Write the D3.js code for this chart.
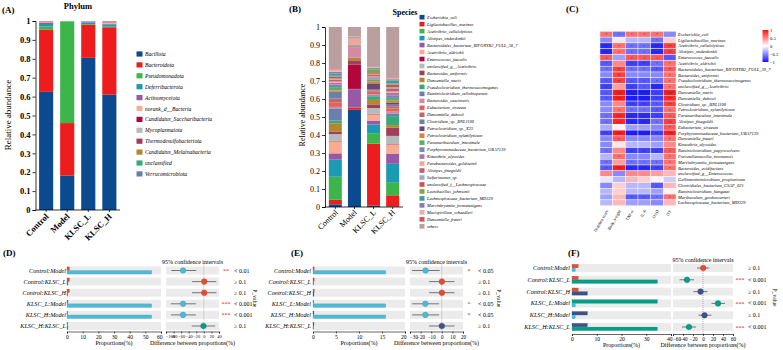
<!DOCTYPE html>
<html><head><meta charset="utf-8">
<script src="https://cdn.jsdelivr.net/npm/d3@7"></script>
<style>body{margin:0;background:#fff}svg{display:block}</style>
</head><body>
<script>
// ---------------- DATA ----------------
const groups = ["Control","Model","KLSC_L","KLSC_H"];
const yTicksStack = [0,0.1,0.2,0.3,0.4,0.5,0.6,0.7,0.8,0.9,1];

// Panel A - phylum
const phyla = ["Bacillota","Bacteroidota","Pseudomonadota","Deferribacterota","Actinomycetota","norank_d__Bacteria","Candidatus_Saccharibacteria","Mycoplasmatota","Thermodesulfobacteriota","Candidatus_Melainabacteria","unclassified","Verrucomicrobiota"];
const phylumColors = ["#0b4a8e","#ee1c1c","#3db54a","#1b9ab3","#9559a5","#f7ac92","#b3063c","#b3bcbb","#a03f5c","#b5862c","#38a97a","#6b7fae"];
// values per phylum: [Control, Model, KLSC_L, KLSC_H]
const phylumValues = [
  [0.625,0.183,0.805,0.610],
  [0.330,0.277,0.175,0.357],
  [0.016,0.538,0.004,0.003],
  [0.013,0.001,0.008,0.012],
  [0.007,0.000,0.003,0.004],
  [0.003,0.000,0.002,0.006],
  [0.002,0.000,0.001,0.002],
  [0.002,0.000,0.001,0.002],
  [0.001,0.000,0.001,0.002],
  [0.0005,0,0,0.001],
  [0.0005,0,0,0.0005],
  [0.0005,0,0,0.0005]
];

// Panel B - species
const species = ["Escherichia_coli","Ligilactobacillus_murinus","Acetivibrio_cellulolyticus","Alistipes_onderdonkii","Bacteroidales_bacterium_RIFOXYB2_FULL_38_7","Acetivibrio_aldrichii","Enterococcus_faecalis","unclassified_g__Acetivibrio","Bacteroides_uniformis","Duncaniella_muris","Pseudoclostridium_thermosuccinogenes","Ruminiclostridium_cellobioparum","Bacteroides_caecimuris","Eubacterium_siraeum","Duncaniella_dubosii","Clostridium_sp._BNL1100","Petroclostridium_sp._X23","Petroclostridium_xylanilyticum","Paramuribaculum_intestinale","Porphyromonadaceae_bacterium_UBA7139","Kineothrix_alysoides","Parabacteroides_goldsteinii","Alistipes_finegoldii","Sulfurimonas_sp.","unclassified_f__Lachnospiraceae","Lactobacillus_johnsonii","Lachnospiraceae_bacterium_MD329","Marvinbryantia_formatexigens","Mucispirillum_schaedleri","Duncaniella_freteri","others"];
const speciesColors = ["#0b4a8e","#ee1c1c","#3db54a","#1b9ab3","#9559a5","#f7ac92","#b3063c","#b3bcbb","#a03f5c","#b5862c","#38a97a","#6b7fae","#d48aa6","#e0645c","#bd6a62","#6a80b2","#6a4870","#d9843c","#5aae6c","#7a84bb","#a679a8","#f2a59c","#c0606a","#a4a8bf","#cf5050","#8c9e48","#3a9e9e","#8b7bb2","#e8afb0","#d05858","#bb9e9e"];
const speciesValues = [
  [0.015,0.540,0.008,0.003],
  [0.025,0.013,0.344,0.062],
  [0.128,0.001,0.058,0.073],
  [0.095,0.001,0.048,0.102],
  [0.035,0.100,0.022,0.057],
  [0.067,0.001,0.035,0.051],
  [0.002,0.133,0.003,0.002],
  [0.038,0.001,0.032,0.045],
  [0.015,0.025,0.020,0.045],
  [0.045,0.013,0.025,0.015],
  [0.015,0.002,0.020,0.050],
  [0.068,0.001,0.006,0.015],
  [0.008,0.057,0.004,0.010],
  [0.026,0.002,0.015,0.017],
  [0.020,0.004,0.007,0.013],
  [0.033,0.001,0.005,0.012],
  [0.005,0.001,0.035,0.006],
  [0.008,0.001,0.012,0.012],
  [0.018,0.003,0.010,0.016],
  [0.014,0.002,0.004,0.012],
  [0.010,0.002,0.008,0.016],
  [0.007,0.032,0.004,0.008],
  [0.010,0.002,0.008,0.014],
  [0.007,0.001,0.004,0.010],
  [0.010,0.002,0.006,0.014],
  [0.005,0.001,0.022,0.006],
  [0.012,0.002,0.006,0.016],
  [0.011,0.001,0.004,0.008],
  [0.012,0.002,0.003,0.006],
  [0.006,0.001,0.003,0.004],
  [0.230,0.052,0.219,0.280]
];

// Panel C - heatmap
const heatCols = ["Diarrhea score","Body_weight","TNF-α","IL-6","DAO","ITF"];
const heatRows = ["Escherichia_coli","Ligilactobacillus_murinus","Acetivibrio_cellulolyticus","Alistipes_onderdonkii","Enterococcus_faecalis","Acetivibrio_aldrichii","Bacteroidales_bacterium_RIFOXYB2_FULL_39_7","Bacteroides_uniformis","Pseudoclostridium_thermosuccinogenes","unclassified_g__Acetivibrio","Duncaniella_muris","Duncaniella_dubosii","Clostridium_sp._BNL1100","Petroclostridium_xylanilyticum","Paramuribaculum_intestinale","Alistipes_finegoldii","Eubacterium_siraeum","Porphyromonadaceae_bacterium_UBA7139","Duncaniella_freteri","Kineothrix_alysoides","Ruminiclostridium_papyrosolvens","Prevotellamassilia_timonensis","Marvinbryantia_formatexigens","Bacteroides_acidifaciens","unclassified_g__Enterococcus","Gallintestinimicrobium_propionicum","Clostridiales_bacterium_CSAF_021","Ruminiclostridium_hungatei","Muribaculum_gordoncarteri","Lachnospiraceae_bacterium_MD329"];
const heatValues = [
  [0.6,-0.6,0.6,0.6,0.6,-0.5],
  [-0.5,0.1,-0.3,-0.3,-0.6,0.2],
  [-0.9,0.6,-0.6,-0.6,-0.9,0.8],
  [-0.9,0.6,-0.6,-0.6,-0.9,0.8],
  [0.7,-0.4,0.7,0.7,0.7,-0.7],
  [-0.7,0.5,-0.8,-0.8,-0.6,0.6],
  [-0.6,0.8,-0.6,-0.6,-0.7,0.7],
  [-0.5,0.8,-0.5,-0.5,-0.5,0.6],
  [-0.7,0.8,-0.7,-0.7,-0.6,0.6],
  [-0.8,0.4,-0.8,-0.7,-0.9,0.6],
  [-0.7,0.95,-0.95,-0.95,-0.8,0.95],
  [-0.7,0.95,-0.95,-0.95,-0.8,0.9],
  [-0.5,0.5,-0.8,-0.8,-0.7,0.8],
  [-0.5,0.6,-0.6,-0.6,-0.7,0.6],
  [-0.6,0.9,-0.9,-0.9,-0.8,0.7],
  [-0.6,0.9,-0.9,-0.9,-0.6,0.8],
  [-0.35,0.05,-0.4,-0.4,-0.5,0.7],
  [-0.8,0.95,-0.95,-0.95,-0.8,0.95],
  [-0.5,0.7,-0.5,-0.5,-0.5,0.6],
  [-0.5,0.1,-0.3,-0.3,-0.4,0.5],
  [-0.6,0.5,-0.8,-0.8,-0.8,0.7],
  [-0.3,0.6,-0.5,-0.5,-0.3,0.6],
  [-0.6,0.4,-0.6,-0.6,-0.6,0.6],
  [-0.7,0.95,-0.9,-0.9,-0.8,0.6],
  [0.5,-0.5,0.5,0.5,0.4,0.3],
  [-0.1,-0.3,0.3,0.2,0.05,-0.2],
  [-0.5,0.2,-0.3,-0.3,-0.7,0.3],
  [-0.3,0.2,-0.3,-0.3,-0.4,0.05],
  [-0.4,0.3,-0.7,-0.7,-0.6,0.6],
  [-0.3,0.3,-0.4,-0.4,-0.5,0.3]
];
const heatLegendTicks = [1,0.5,0,-0.5,-1];

// Panels D, E, F - STAMP style comparisons
const pairs = ["Control:Model","Control:KLSC_L","Control:KLSC_H","KLSC_L:Model","KLSC_H:Model","KLSC_H:KLSC_L"];
const groupColors = ["#e64b35","#4dbbd5","#00a087","#3c5488"];

const propD = [1.5, 54, 0.6, 0.3];
const diffD = [-55, 1, 1, -55, -55, -1];
const loD = [-86, -31, -31, -87, -87, -32];
const hiD = [-20, 33, 33, -21, -21, 30];
const pD = ["< 0.01","≥ 0.1","≥ 0.1","< 0.001","< 0.001","≥ 0.1"];
const starD = ["**","","","***","***",""];
const ticksDL = [0,10,20,30,40,50,60];
const ticksDR = [-100,-80,-60,-40,-20,0,20,40];

const propE = [0.25, 15.8, 0.15, 0.2];
const diffE = [-15.3, 0.1, 0.1, -15.5, -15.5, 0.05];
const loE = [-28, -12, -12, -28, -28, -12];
const hiE = [-2, 12, 12, -2.5, -2.5, 12];
const pE = ["< 0.05","≥ 0.1","≥ 0.1","< 0.05","< 0.05","≥ 0.1"];
const starE = ["*","","","*","*",""];
const ticksEL = [0,5,10,15,20];
const ticksER = [-30,-20,-10,0,10,20];

const propF = [2.5, 1.3, 34.5, 6.2];
const diffF = [0.5, -32, -5, 30, 3, -28];
const loF = [-12, -47, -19, 17, -9, -42];
const hiF = [13, -18, 9, 44, 17, -14];
const pF = ["≥ 0.1","< 0.001","≥ 0.1","< 0.001","≥ 0.1","< 0.001"];
const starF = ["","***","","***","","***"];
const ticksFL = [0,10,20,30,40];
const ticksFR = [-60,-40,-20,0,20,40,60];

// ---------------- DRAWING ----------------
const FONT = "'Liberation Serif','Times New Roman',serif";
const svg = d3.select("body").append("svg").attr("width",783).attr("height",350)
  .attr("font-family",FONT);
svg.append("rect").attr("width",783).attr("height",350).attr("fill","#fff");

function txt(x,y,s,size,opt={}){
  const t = svg.append("text").attr("x",x).attr("y",y).attr("font-size",size).text(s);
  if(opt.anchor) t.attr("text-anchor",opt.anchor);
  if(opt.bold) t.attr("font-weight","bold");
  if(opt.italic) t.attr("font-style","italic");
  if(opt.fill) t.attr("fill",opt.fill);
  if(opt.rot!==undefined) t.attr("transform",`rotate(${opt.rot},${x},${y})`);
  return t;
}

function stacked(o){
  const g = svg.append("g");
  const x = d3.scaleBand().domain(groups).range([o.x0,o.x1]).paddingInner(o.pi).paddingOuter(o.po);
  const y = d3.scaleLinear().domain([0,1]).range([o.yb,o.yt]);
  groups.forEach((grp,gi)=>{
    let acc=0;
    o.values.forEach((row,si)=>{
      const v=row[gi]; if(!v) return;
      const top=Math.min(1,acc+v);
      g.append("rect").attr("x",x(grp)).attr("width",x.bandwidth())
        .attr("y",y(top)).attr("height",Math.max(0,y(acc)-y(top))).attr("fill",o.colors[si]);
      acc+=v;
    });
  });
  const ya = g.append("g").attr("transform",`translate(${o.x0},0)`)
    .call(d3.axisLeft(y).tickValues(yTicksStack).tickFormat(d3.format("~g")).tickSize(3).tickPadding(2));
  ya.selectAll("text").attr("font-family",FONT).attr("font-size",o.tickSize).attr("font-weight",o.bold?"bold":"normal").attr("fill","#000");
  ya.selectAll("line,path").attr("stroke","#000").attr("stroke-width",0.8);
  const xa = g.append("g").attr("transform",`translate(0,${o.yb})`)
    .call(d3.axisBottom(x).tickSize(2).tickSizeOuter(0));
  xa.select(".domain").attr("d",`M${o.x0},0H${o.x1}`);
  xa.selectAll("line,path").attr("stroke","#000").attr("stroke-width",0.8);
  xa.selectAll("text").attr("font-family",FONT).attr("font-size",o.tickSize).attr("font-weight",o.bold?"bold":"normal").attr("fill","#000")
    .attr("text-anchor","end").attr("dy",0).attr("y",0)
    .attr("transform",`translate(3,${o.lblOff}) rotate(-45)`);
}

// Panel A
txt(2,13,"(A)",9,{bold:true});
txt(78,9,"Phylum",8.5,{bold:true,anchor:"middle"});
stacked({x0:35.5,x1:120,yb:210,yt:21,pi:0.33,po:0.17,values:phylumValues,colors:phylumColors,tickSize:8.5,bold:true,lblOff:7});
txt(11,115,"Relative abundance",9,{anchor:"middle",rot:-90});
phyla.forEach((p,i)=>{
  const yy = 54 + i*10.9;
  svg.append("rect").attr("x",136.5).attr("y",yy-2.6).attr("width",6).attr("height",5.2).attr("fill",phylumColors[i]);
  txt(145,yy+2,p,5.6,{italic:true});
});

// Panel B
txt(289,12,"(B)",9,{bold:true});
txt(405,15,"Species",8,{bold:true,anchor:"middle"});
stacked({x0:325,x1:403,yb:207,yt:27,pi:0.32,po:0.2,values:speciesValues,colors:speciesColors,tickSize:8,bold:false,lblOff:6});
txt(305,115,"Relative abundance",8,{anchor:"middle",rot:-90});
species.forEach((s,i)=>{
  const yy = 17.2 + i*6.97;
  svg.append("rect").attr("x",419.5).attr("y",yy-2.3).attr("width",5).attr("height",4.6).attr("fill",speciesColors[i]);
  txt(427,yy+1.6,s,4.4,{italic:true});
});

// Panel C heatmap
txt(566,12,"(C)",9,{bold:true});
const hx = d3.scaleBand().domain(heatCols).range([600,676]);
const hy = d3.scaleBand().domain(heatRows).range([31.3,205.7]);
const hcol = d3.scaleLinear().domain([-1,0,1]).range(["#1010ff","#ffffff","#ff1010"]);
heatRows.forEach((r,ri)=>{
  heatCols.forEach((c,ci)=>{
    const v = heatValues[ri][ci];
    svg.append("rect").attr("x",hx(c)).attr("y",hy(r)).attr("width",hx.bandwidth()).attr("height",hy.bandwidth())
      .attr("fill",hcol(v)).attr("stroke","#fff").attr("stroke-width",0.4);
    const a=Math.abs(v);
    const st = a>=0.9?"***":a>=0.75?"**":a>=0.55?"*":"";
    if(st) txt(hx(c)+hx.bandwidth()/2,hy(r)+hy.bandwidth()/2+2.2,st,3.6,{anchor:"middle",fill:"#333"});
  });
  txt(678,hy(r)+hy.bandwidth()/2+1.6,r,4.5,{italic:true});
});
heatCols.forEach(c=>{
  txt(hx(c)+hx.bandwidth()/2+2,211,c,4.2,{anchor:"end",rot:-60});
});
const defs = svg.append("defs");
const lg = defs.append("linearGradient").attr("id","hg").attr("x1",0).attr("x2",0).attr("y1",0).attr("y2",1);
[[0,"#ff1010"],[0.5,"#ffffff"],[1,"#1010ff"]].forEach(([o,c])=>lg.append("stop").attr("offset",o).attr("stop-color",c));
svg.append("rect").attr("x",762.5).attr("y",30).attr("width",6).attr("height",32).attr("fill","url(#hg)");
const lgs = d3.scaleLinear().domain([1,-1]).range([30,62]);
heatLegendTicks.forEach(t=>txt(770,lgs(t)+1.6,d3.format("~g")(t),4.6,{}));

// STAMP panels
function stamp(o){
  const g = svg.append("g");
  const xl = d3.scaleLinear().domain([o.lt[0],o.lt[o.lt.length-1]]).range([o.lx0,o.lx1]);
  const xr = d3.scaleLinear().domain([o.rt[0],o.rt[o.rt.length-1]]).range([o.rx0,o.rx1]);
  const yc = i => o.y0 + i*o.dy;
  pairs.forEach((p,i)=>{
    const cy = yc(i);
    g.append("rect").attr("x",o.lx0).attr("y",cy-4).attr("width",o.lx1-o.lx0).attr("height",8).attr("fill","#ebebeb");
    g.append("rect").attr("x",o.rx0).attr("y",cy-4).attr("width",o.rx1-o.rx0).attr("height",8).attr("fill","#ebebeb");
  });
  // zero line
  g.append("line").attr("x1",xr(0)).attr("x2",xr(0)).attr("y1",yc(0)-7).attr("y2",o.axisY)
    .attr("stroke","#888").attr("stroke-width",0.6).attr("stroke-dasharray","1,1");
  pairs.forEach((p,i)=>{
    const cy = yc(i);
    const [a,b] = p.split(":");
    const ia = groups.indexOf(a), ib = groups.indexOf(b);
    g.append("rect").attr("x",xl(0)).attr("y",cy-3.6).attr("width",Math.max(0.6,xl(o.prop[ia])-xl(0))).attr("height",3.4)
      .attr("fill",groupColors[ia]).attr("stroke",d3.color(groupColors[ia]).darker(0.6)).attr("stroke-width",0.3);
    g.append("rect").attr("x",xl(0)).attr("y",cy+0.1).attr("width",Math.max(0.6,xl(o.prop[ib])-xl(0))).attr("height",3.4)
      .attr("fill",groupColors[ib]).attr("stroke",d3.color(groupColors[ib]).darker(0.6)).attr("stroke-width",0.3);
    txt(o.labelX,cy+2,p,6.2,{anchor:"end",italic:true});
    g.append("line").attr("x1",xr(o.lo[i])).attr("x2",xr(o.hi[i])).attr("y1",cy).attr("y2",cy)
      .attr("stroke","#444").attr("stroke-width",0.7);
    const pc = o.prop[ia] >= o.prop[ib] ? groupColors[ia] : groupColors[ib];
    g.append("circle").attr("cx",xr(o.diff[i])).attr("cy",cy).attr("r",2.8).attr("fill",pc)
      .attr("stroke",d3.color(pc).darker(0.8)).attr("stroke-width",0.4);
    if(o.stars[i]) txt(o.starX,cy+2.5,o.stars[i],6,{anchor:"middle",fill:"#e02020"});
    txt(o.pX,cy+2,o.pv[i],6,{});
  });
  const axL = g.append("g").attr("transform",`translate(0,${o.axisY})`).call(d3.axisBottom(xl).tickValues(o.lt).tickSize(2).tickPadding(1.5));
  const axR = g.append("g").attr("transform",`translate(0,${o.axisY})`).call(d3.axisBottom(xr).tickValues(o.rt).tickSize(2).tickPadding(1.5));
  axL.selectAll("text").attr("font-family",FONT).attr("font-size",5.6).attr("fill","#000");
  axR.selectAll("text").attr("font-family",FONT).attr("font-size",o.rFont).attr("fill","#000");
  [axL,axR].forEach(ax=>ax.selectAll("line,path").attr("stroke","#000").attr("stroke-width",0.6));
  // keep the abutting end labels of the two axes from colliding
  axL.selectAll(".tick:last-of-type text").attr("text-anchor","end").attr("dx",1);
  axR.selectAll(".tick:first-of-type text").attr("text-anchor","start").attr("dx",-0.5);
  txt((o.lx0+o.lx1)/2,o.axisY+13,"Proportions(%)",6,{anchor:"middle"});
  txt((o.rx0+o.rx1)/2,o.axisY+13,"Difference between proportions(%)",6,{anchor:"middle"});
  txt((o.rx0+o.rx1)/2,o.titleY,"95% confidence intervals",6,{anchor:"middle"});
  txt(o.pvX,(yc(0)+yc(5))/2,"P_value",5.6,{anchor:"middle",rot:90});
  txt(o.tagX,256,o.tag,9,{bold:true});
}

stamp({tag:"(D)",tagX:3,y0:270.5,dy:11.1,labelX:66,lx0:67,lx1:161,rx0:166,rx1:219,lt:ticksDL,rt:ticksDR,rFont:4.4,
  prop:propD,diff:diffD,lo:loD,hi:hiD,pv:pD,stars:starD,axisY:331.5,titleY:263.5,starX:226,pX:234,pvX:253});
stamp({tag:"(E)",tagX:291,y0:270.5,dy:11.1,labelX:311,lx0:313,lx1:405,rx0:410,rx1:463,lt:ticksEL,rt:ticksER,rFont:5.1,
  prop:propE,diff:diffE,lo:loE,hi:hiE,pv:pE,stars:starE,axisY:331.5,titleY:263.5,starX:469,pX:478,pvX:497});
stamp({tag:"(F)",tagX:568,y0:268,dy:11.8,labelX:570,lx0:572,lx1:671,rx0:673,rx1:733,lt:ticksFL,rt:ticksFR,rFont:5.1,
  prop:propF,diff:diffF,lo:loF,hi:hiF,pv:pF,stars:starF,axisY:334,titleY:262,starX:740,pX:748,pvX:773});
</script>
</body></html>
